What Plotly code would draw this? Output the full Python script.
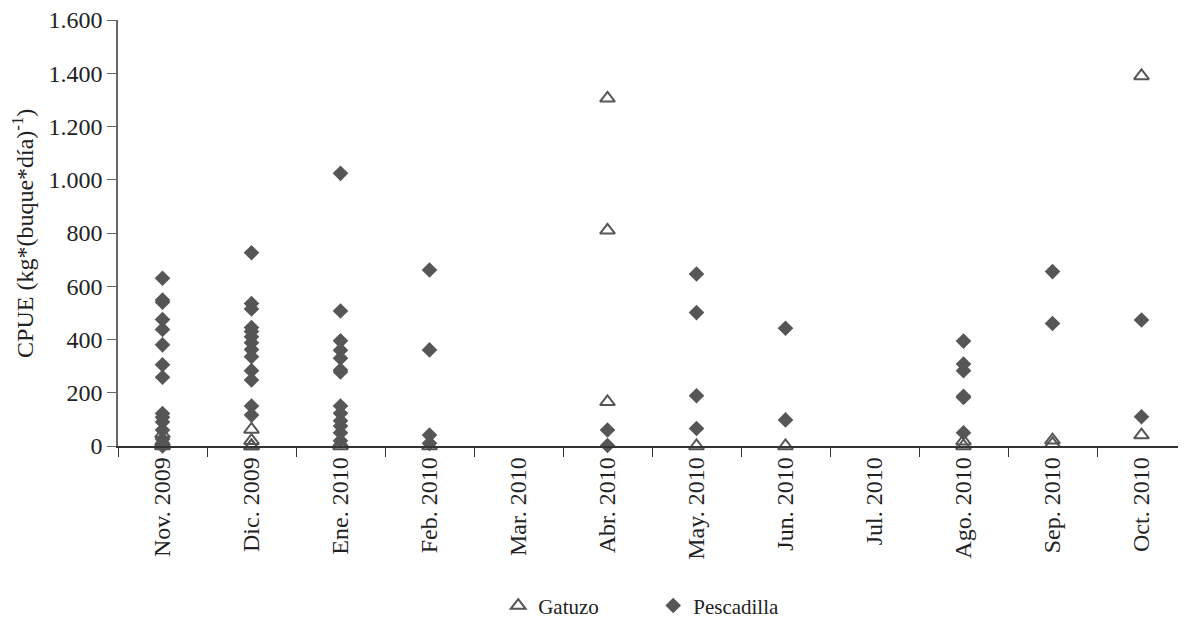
import plotly.graph_objects as go

months = ["Nov. 2009", "Dic. 2009", "Ene. 2010", "Feb. 2010", "Mar. 2010", "Abr. 2010",
          "May. 2010", "Jun. 2010", "Jul. 2010", "Ago. 2010", "Sep. 2010", "Oct. 2010"]

# Pescadilla values per month
pesc_nov = [630, 548, 540, 475, 438, 380, 305, 258, 122, 108, 90, 60, 25, 10, 0]
pesc_dic = [726, 535, 515, 445, 430, 410, 388, 362, 335, 283, 248, 150, 116]
pesc_ene = [1024, 507, 395, 360, 330, 285, 278, 150, 123, 95, 75, 50, 20]
pesc_feb = [661, 361, 41, 10]
pesc_abr = [60, 2]
pesc_may = [646, 501, 189, 66]
pesc_jun = [442, 98]
pesc_ago = [394, 308, 283, 187, 182, 50]
pesc_sep = [655, 460]
pesc_oct = [473, 110]

# Gatuzo values per month
gat_nov = [45, 15, 2, 0]
gat_dic = [62, 20, 0, 0]
gat_ene = [10, 0]
gat_feb = [0]
gat_abr = [1306, 810, 166]
gat_may = [0]
gat_jun = [0]
gat_ago = [18, 0]
gat_sep = [22, 8]
gat_oct = [1390, 41]

y_tickvals = [0, 200, 400, 600, 800, 1000, 1200, 1400, 1600]
y_ticktext = ["0", "200", "400", "600", "800", "1.000", "1.200", "1.400", "1.600"]

pesc = {"Nov. 2009": pesc_nov, "Dic. 2009": pesc_dic, "Ene. 2010": pesc_ene, "Feb. 2010": pesc_feb,
        "Abr. 2010": pesc_abr, "May. 2010": pesc_may, "Jun. 2010": pesc_jun, "Ago. 2010": pesc_ago,
        "Sep. 2010": pesc_sep, "Oct. 2010": pesc_oct}
gat = {"Nov. 2009": gat_nov, "Dic. 2009": gat_dic, "Ene. 2010": gat_ene, "Feb. 2010": gat_feb,
       "Abr. 2010": gat_abr, "May. 2010": gat_may, "Jun. 2010": gat_jun, "Ago. 2010": gat_ago,
       "Sep. 2010": gat_sep, "Oct. 2010": gat_oct}

def flatten(d):
    xs, ys = [], []
    for m, vals in d.items():
        for v in vals:
            xs.append(m)
            ys.append(v)
    return xs, ys

gx, gy = flatten(gat)
px, py = flatten(pesc)

col = "#565656"
font = "Liberation Serif"

fig = go.Figure()
fig.add_trace(go.Scatter(x=gx, y=gy, mode="markers", name="Gatuzo",
                         marker=dict(symbol="triangle-up-open", size=13, color=col,
                                     line=dict(width=2, color=col)),
                         cliponaxis=False))
fig.add_trace(go.Scatter(x=px, y=py, mode="markers", name="Pescadilla",
                         marker=dict(symbol="diamond", size=12, color=col,
                                     line=dict(width=0)),
                         cliponaxis=False))

fig.add_annotation(text="CPUE (kg*(buque*día)<sup>-1</sup>)", xref="paper", yref="paper",
                   x=-0.089, y=0.50, textangle=-90, showarrow=False,
                   xanchor="center", yanchor="middle",
                   font=dict(family=font, size=24, color="#222222"))

# page has an 8px body margin: figure is 1178x612 drawn at (8, 8)
fig.update_layout(
    width=1178, height=612,
    margin=dict(l=110, r=0, t=12, b=174, autoexpand=False),
    paper_bgcolor="white", plot_bgcolor="white",
    font=dict(family=font, size=22, color="#222222"),
    showlegend=True,
    legend=dict(orientation="h", x=0.356, xanchor="left", yref="container", y=0.023,
                yanchor="middle", font=dict(family=font, size=21, color="#222222"),
                itemwidth=30, entrywidth=110, entrywidthmode="pixels",
                traceorder="normal"),
    xaxis=dict(type="category", categoryorder="array", categoryarray=months,
               range=[-0.5, 11.5], tickangle=-90, showgrid=False, zeroline=False,
               showline=True, linecolor="#333333", linewidth=1.5, automargin=False,
               ticks="outside", tickson="boundaries", ticklen=9, tickcolor="#333333",
               tickfont=dict(family=font, size=24, color="#222222")),
    yaxis=dict(range=[0, 1600], tickvals=y_tickvals, ticktext=y_ticktext,
               showgrid=False, zeroline=False, showline=True, linecolor="#666666", linewidth=1.5,
               ticks="outside", ticklen=9, tickcolor="#666666", automargin=False,
               ticklabeloverflow="allow",
               tickfont=dict(family=font, size=24, color="#222222")),
)

fig.write_html("out.html")
